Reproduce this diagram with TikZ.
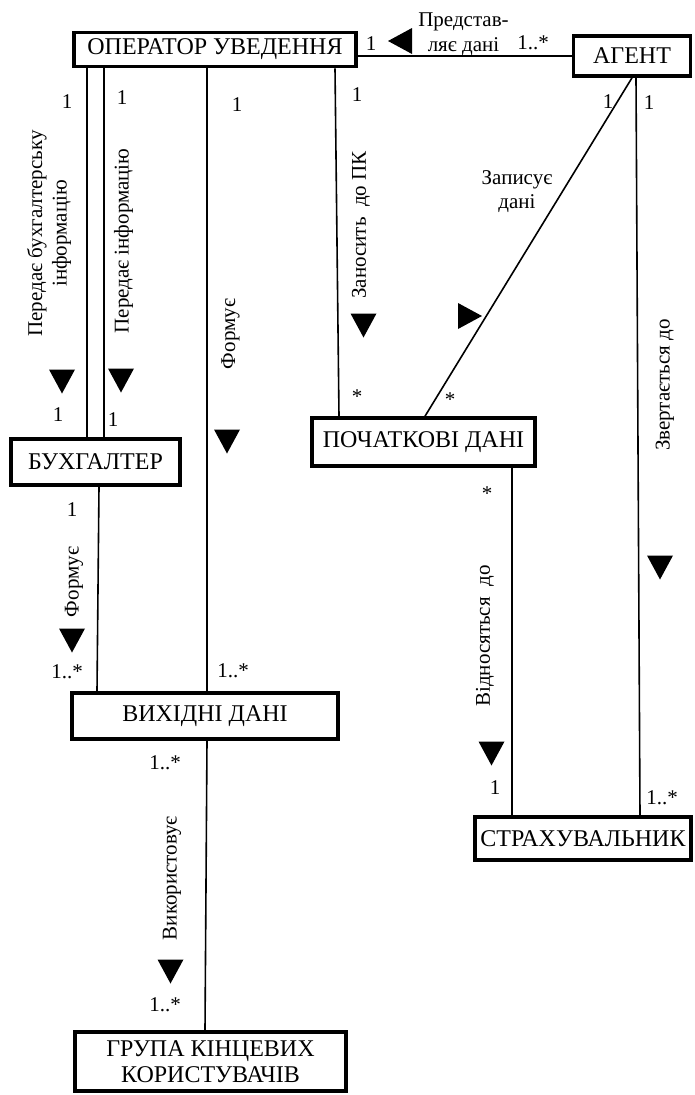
\documentclass[tikz,border=0pt]{standalone}
\usepackage{fontspec}
\setmainfont{Liberation Serif}

\tikzset{
  entity/.style={draw, line width=3.6pt, inner sep=0pt, align=center,
    font=\fontsize{24}{26.5}\selectfont},
  mult/.style={inner sep=0pt, font=\fontsize{21}{24}\selectfont},
  role/.style={inner sep=0pt, align=center, font=\fontsize{21}{24.5}\selectfont},
  assoc/.style={line width=1.6pt},
  navarrow/.pic={\fill (-13,-12) -- (13,-12) -- (0,12) -- cycle;}
}

\begin{document}
\begin{tikzpicture}[x=1pt, y=-1pt]
  \useasboundingbox (0,0) rectangle (694,1095);

  % classes
  \node[entity, minimum width=282pt, minimum height=34pt] (oper) at (215,49.5) {ОПЕРАТОР УВЕДЕННЯ};
  \node[entity, minimum width=117pt, minimum height=40pt] (agent) at (632,56) {АГЕНТ};
  \node[entity, minimum width=169pt, minimum height=46pt] (buh) at (95.5,462) {БУХГАЛТЕР};
  \node[entity, minimum width=223pt, minimum height=48pt] (poch) at (423.5,442) {ПОЧАТКОВІ ДАНІ};
  \node[entity, minimum width=266pt, minimum height=46pt] (vyh) at (205,716) {ВИХІДНІ ДАНІ};
  \node[entity, minimum width=216pt, minimum height=43pt] (strah) at (583,838.5) {СТРАХУВАЛЬНИК};
  \node[entity, minimum width=271pt, minimum height=59pt] (grupa) at (210.5,1061.5) {ГРУПА КІНЦЕВИХ\\КОРИСТУВАЧІВ};

  % associations
  \draw[assoc] (agent.west) -- (agent.west -| oper.east);
  \draw[assoc] ([xshift=-8.5pt]buh.north) -- ([xshift=-8.5pt]buh.north |- oper.south);
  \draw[assoc] ([xshift=8.5pt]buh.north) -- ([xshift=8.5pt]buh.north |- oper.south);
  \draw[assoc] ([xshift=2pt]vyh.north) -- ([xshift=2pt]vyh.north |- oper.south);
  \draw[assoc] ([xshift=120pt]oper.south) -- ([xshift=-84.5pt]poch.north);
  \draw[assoc] (agent.south) -- ([xshift=1.5pt]poch.north);
  \draw[assoc] ([xshift=4pt]agent.south) -- ([xshift=57pt]strah.north);
  \draw[assoc] ([xshift=-71pt]strah.north) -- ([xshift=-71pt]strah.north |- poch.south);
  \draw[assoc] ([xshift=3.5pt]buh.south) -- ([xshift=-108pt]vyh.north);
  \draw[assoc] ([xshift=2pt]vyh.south) -- ([xshift=-5.5pt]grupa.north);

  % association names
  \node[role] (predst) at (463.5,34) {Представ-\\ляє дані};
  \node[role, rotate=90] (perbuh) at (49,233.5) {Передає бухгалтерську\\інформацію};
  \node[role, rotate=90] (perinf) at (123.5,241) {Передає інформацію};
  \node[role, rotate=90] (form1) at (230.5,334) {Формує};
  \node[role, rotate=90] (zanos) at (361,225) {Заносить\ \ до ПК};
  \node[role] (zapys) at (517,191.5) {Записує\\дані};
  \node[role, rotate=90] (zvert) at (665,385) {Звертається до};
  \node[role, rotate=90] (vidn) at (485,636) {Відносяться\ \ до};
  \node[role, rotate=90] (form2) at (74,582) {Формує};
  \node[role, rotate=90] (vykor) at (172,878) {Використовує};

  % reading directions
  \foreach \x/\y/\r in {400/41/-90, 62/381.5/0, 121/380.5/0, 227/441.5/0,
      363.5/325.5/0, 470/316/90, 660/567.5/0, 491.5/753.5/0, 72/640.5/0, 170.5/971.5/0}
    \pic[rotate=\r] at (\x,\y) {navarrow};

  % multiplicities
  \foreach \x/\y/\t [count=\i] in {371/44/1, 533/43/1..*, 67/102/1, 122/98/1, 237/105/1,
      357/95/1, 608/102/1, 649/103/1, 58/415/1, 113/420/1, 357/397/*, 450/400/*,
      72/510/1, 487/494/*, 67/672/1..*, 233/671/1..*, 495/788/1, 662/798/1..*,
      165/763/1..*, 165/1005/1..*}
    \node[mult] (m\i) at (\x,\y) {\t};
\end{tikzpicture}
\end{document}
